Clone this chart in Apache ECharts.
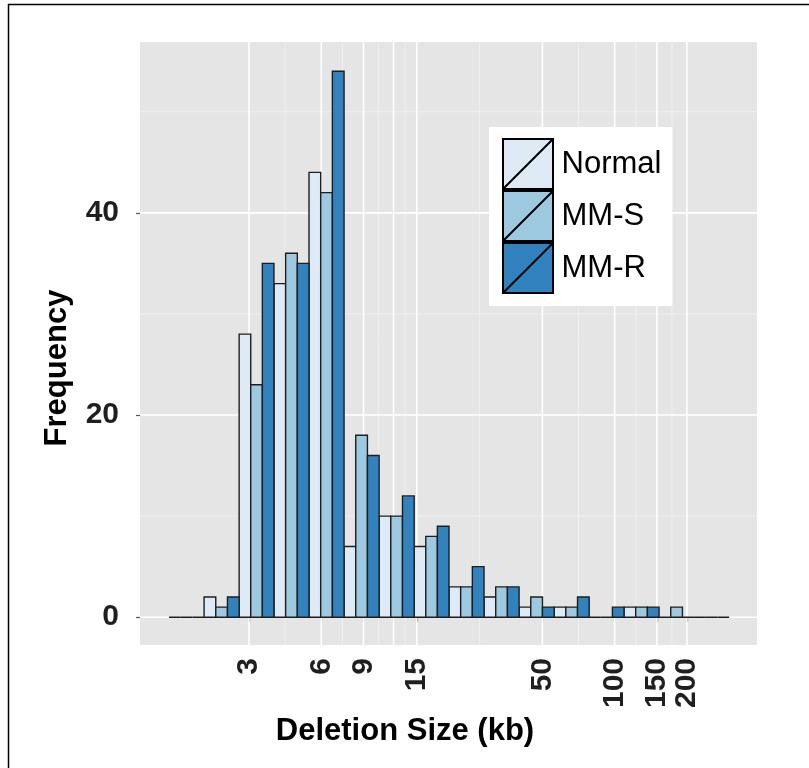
<!DOCTYPE html>
<html>
<head>
<meta charset="utf-8">
<script src="https://cdn.jsdelivr.net/npm/echarts@6/dist/echarts.min.js"></script>
<style>
html,body{margin:0;padding:0;background:#fff;}
#main{width:809px;height:768px;}
</style>
</head>
<body>
<div id="main"></div>
<script>
// ---- data ----
// histogram bin edges, in log10(kb)
const binEdgesLog10 = [0.144, 0.290, 0.436, 0.581, 0.727, 0.873, 1.019, 1.165, 1.310, 1.456, 1.602, 1.748, 1.894, 2.039, 2.185, 2.331, 2.477];
const groupNames = ['Normal', 'MM-S', 'MM-R'];
const countsNormal = [0, 2, 28, 33, 44, 7, 10, 7, 3, 2, 1, 1, 0, 1, 0, 0];
const countsMMS    = [0, 1, 23, 36, 42, 18, 10, 8, 3, 3, 2, 1, 0, 1, 1, 0];
const countsMMR    = [0, 2, 35, 35, 54, 16, 12, 9, 5, 3, 1, 2, 1, 1, 0, 0];
const xTickValues = [3, 6, 9, 12, 15, 50, 100, 150, 200];
const xTickLabels = ['3', '6', '9', '', '15', '50', '100', '150', '200'];
const yTickValues = [0, 20, 40];
const yMinorValues = [10, 30, 50];
const colors = ['#DEEBF7', '#9ECAE1', '#3182BD'];

const FONT = '"Liberation Sans", Arial, Helvetica, sans-serif';
const allCounts = [countsNormal, countsMMS, countsMMR];

const xMajor = xTickValues.map(v => Math.log10(v));
const xMinor = [];
for (let i = 0; i < xMajor.length - 1; i++) xMinor.push((xMajor[i] + xMajor[i + 1]) / 2);

function barSeries(s) {
  const data = allCounts[s].map((c, i) => {
    const w = (binEdgesLog10[i + 1] - binEdgesLog10[i]) / 3;
    const x0 = binEdgesLog10[i] + s * w;
    return [x0, x0 + w, c];
  });
  return {
    type: 'custom',
    name: groupNames[s],
    z: 3,
    itemStyle: { color: colors[s] },
    encode: { x: [0, 1], y: 2 },
    data: data,
    renderItem: function (params, api) {
      const p0 = api.coord([api.value(0), api.value(2)]);
      const p1 = api.coord([api.value(1), 0]);
      return {
        type: 'rect',
        shape: { x: p0[0], y: p0[1], width: p1[0] - p0[0], height: p1[1] - p0[1] },
        style: { fill: colors[s], stroke: '#1e1e1e', lineWidth: 1.4 }
      };
    }
  };
}

function gridSeries(values, dir, color, width) {
  return {
    type: 'custom',
    silent: true,
    z: 1,
    data: values.map(v => [v]),
    encode: dir === 'v' ? { x: 0 } : { y: 0 },
    renderItem: function (params, api) {
      const cs = params.coordSys;
      const v = api.value(0);
      if (dir === 'v') {
        const p = api.coord([v, 0]);
        return { type: 'line', shape: { x1: p[0], y1: cs.y, x2: p[0], y2: cs.y + cs.height },
                 style: { stroke: color, lineWidth: width } };
      } else {
        const p = api.coord([0.5, v]);
        return { type: 'line', shape: { x1: cs.x, y1: p[1], x2: cs.x + cs.width, y2: p[1] },
                 style: { stroke: color, lineWidth: width } };
      }
    }
  };
}

const chart = echarts.init(document.getElementById('main'), null, { renderer: 'canvas' });
const legendIcon = 'path://M0,0 L100,0 L100,100 L0,100 Z M0,100 L100,0';

chart.setOption({
  animation: false,
  backgroundColor: '#ffffff',
  grid: { left: 140, right: 52, top: 42, bottom: 123, show: true, backgroundColor: '#E5E5E5', borderWidth: 0 },
  xAxis: {
    type: 'value',
    min: 0.0231, max: 2.5929,
    axisLine: { show: false },
    splitLine: { show: false },
    axisTick: { show: true, length: 5, customValues: xMajor, lineStyle: { color: '#555', width: 1.2 } },
    axisLabel: {
      customValues: xMajor,
      rotate: 90, margin: 13,
      fontSize: 30, fontWeight: 'bold', color: '#1f1f1f', fontFamily: FONT,
      formatter: function (v) {
        let best = 0, bd = 1e9;
        xMajor.forEach((m, i) => { const d = Math.abs(m - v); if (d < bd) { bd = d; best = i; } });
        return xTickLabels[best];
      }
    }
  },
  yAxis: {
    type: 'value',
    min: -2.75, max: 56.9,
    axisLine: { show: false },
    splitLine: { show: false },
    axisTick: { show: true, length: 4, customValues: yTickValues, lineStyle: { color: '#555', width: 1.2 } },
    axisLabel: {
      customValues: yTickValues, margin: 21,
      fontSize: 30, fontWeight: 'bold', color: '#1f1f1f', fontFamily: FONT
    }
  },
  legend: {
    orient: 'vertical',
    left: 489, top: 127,
    padding: [11, 11, 12, 13],
    backgroundColor: '#ffffff',
    itemGap: 0, itemWidth: 51, itemHeight: 50,
    selectedMode: false,
    textStyle: { fontSize: 31, color: '#000', fontFamily: FONT, padding: [0, 0, 0, 3] },
    data: groupNames.map((n, i) => ({
      name: n, icon: legendIcon,
      itemStyle: { color: colors[i], borderColor: '#000', borderWidth: 2 }
    }))
  },
  graphic: [
    { type: 'line', shape: { x1: 8, y1: 4.5, x2: 809, y2: 4.5 }, style: { stroke: '#000', lineWidth: 1.5 }, silent: true },
    { type: 'line', shape: { x1: 8.5, y1: 4, x2: 8.5, y2: 768 }, style: { stroke: '#000', lineWidth: 1.5 }, silent: true },
    { type: 'text', x: 405, y: 731, silent: true,
      style: { text: 'Deletion Size (kb)', fontSize: 31, fontWeight: 'bold', fontFamily: FONT, fill: '#000', align: 'center', verticalAlign: 'middle' } },
    { type: 'text', x: 57, y: 368, rotation: Math.PI / 2, silent: true,
      style: { text: 'Frequency', fontSize: 31, fontWeight: 'bold', fontFamily: FONT, fill: '#000', align: 'center', verticalAlign: 'middle' } }
  ],
  series: [
    gridSeries(xMinor, 'v', '#F2F2F2', 0.8),
    gridSeries(yMinorValues, 'h', '#F2F2F2', 0.8),
    gridSeries(xMajor, 'v', '#FFFFFF', 1.6),
    gridSeries(yTickValues, 'h', '#FFFFFF', 1.6),
    barSeries(0), barSeries(1), barSeries(2)
  ]
});
</script>
</body>
</html>
